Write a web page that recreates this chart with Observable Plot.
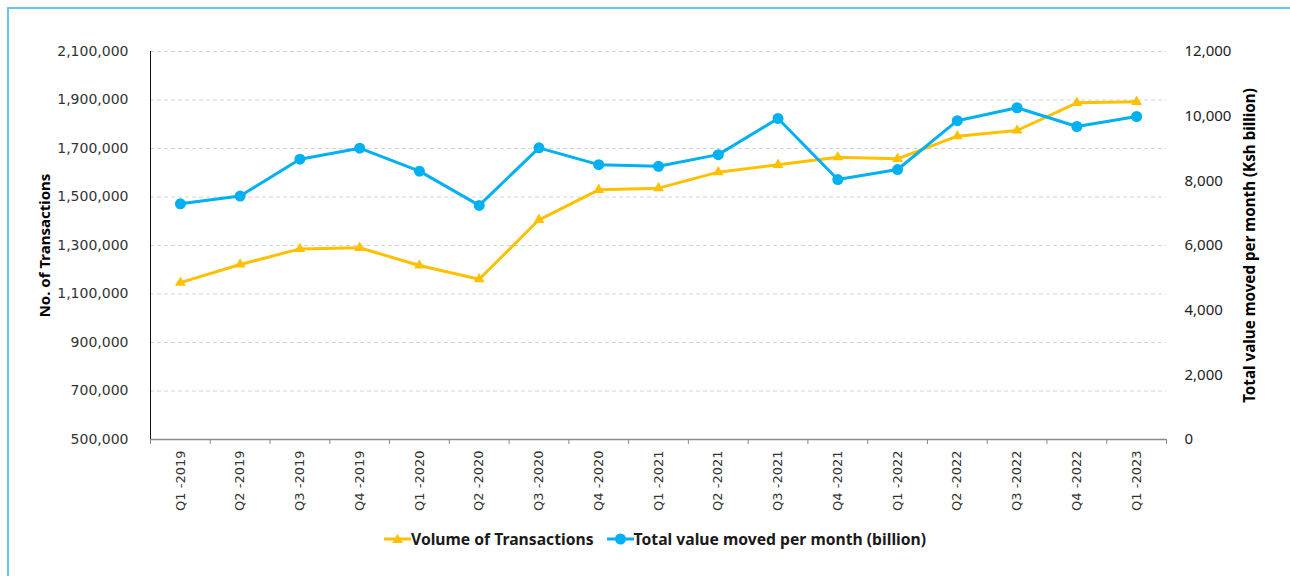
<!DOCTYPE html>
<html>
<head>
<meta charset="utf-8">
<script src="https://cdn.jsdelivr.net/npm/d3@7"></script>
<script src="https://cdn.jsdelivr.net/npm/@observablehq/plot@0.6"></script>
<style>
  html, body { margin: 0; padding: 0; background: #fff; }
  #wrap { position: relative; width: 1290px; height: 576px; overflow: hidden; }
  #border { position: absolute; left: 7px; top: 7px; width: 1300px; height: 600px;
            border-left: 2px solid #63c7f2; border-top: 2px solid #63c7f2; box-sizing: border-box; }
  #chart { position: absolute; left: 0; top: 0; }
  #legend { position: absolute; left: 384px; top: 528px; display: flex; align-items: center;
            font-family: "Noto Sans", sans-serif; font-weight: bold; font-size: 15.7px; color: #1a1a1a; white-space: nowrap; }
  #legend .item { display: flex; align-items: center; margin-right: 13px; }
  #legend svg { display: block; }
</style>
</head>
<body>
<div id="wrap">
  <div id="border"></div>
  <div id="chart"></div>
  <div id="legend"></div>
</div>
<script>
const quarters = ["Q1 -2019","Q2 -2019","Q3 -2019","Q4 -2019","Q1 -2020","Q2 -2020","Q3 -2020","Q4 -2020",
  "Q1 -2021","Q2 -2021","Q3 -2021","Q4 -2021","Q1 -2022","Q2 -2022","Q3 -2022","Q4 -2022","Q1 -2023"];
const volume = [1147000,1221600,1286000,1290500,1217500,1161000,1406000,1529600,1536400,1602400,1632600,
  1664300,1657400,1750800,1774200,1888400,1892500];
const valueBn = [7290,7530,8670,9010,8300,7240,9020,8500,8450,8810,9930,8040,8350,9860,10260,9680,9990];
const leftTicks = [500000,700000,900000,1100000,1300000,1500000,1700000,1900000,2100000];
const rightTicks = [0,2000,4000,6000,8000,10000,12000];
const seriesNames = ["Volume of Transactions","Total value moved per month (billion)"];
const axisTitles = ["No. of Transactions","Total value moved per month (Ksh billion)"];

const orange = "#FFC000", blue = "#00B0F0";
const W = 1290, H = 520, mL = 150, mR = 124, mT = 51, mB = 81;
const step = (W - mL - mR) / quarters.length;

// map right-axis values onto the left scale domain
const leftMin = 500000, leftMax = 2100000, rightMax = 12000;
const toLeft = v => leftMin + v * (leftMax - leftMin) / rightMax;
const fromLeft = d => Math.round((d - leftMin) * rightMax / (leftMax - leftMin));

const volData = quarters.map((q, i) => ({q, v: volume[i]}));
const valData = quarters.map((q, i) => ({q, v: toLeft(valueBn[i])}));
const fmt = d3.format(",");

const plot = Plot.plot({
  width: W, height: H,
  marginLeft: mL, marginRight: mR, marginTop: mT, marginBottom: mB,
  style: {fontFamily: "DejaVu Sans, sans-serif", background: "transparent"},
  x: {type: "point", domain: quarters, padding: 0.5, round: false},
  y: {domain: [leftMin, leftMax]},
  marks: [
    Plot.gridY(leftTicks, {stroke: "#d4d4d4", strokeOpacity: 1, strokeDasharray: "4,3"}),
    Plot.axisY(leftTicks, {anchor: "left", tickSize: 0, tickPadding: 22, tickFormat: fmt, label: null,
      fontSize: 14, fontFamily: "DejaVu Sans, sans-serif", fill: "#333"}),
    Plot.axisY(rightTicks.map(toLeft), {anchor: "right", tickSize: 0, tickPadding: 18,
      tickFormat: d => fmt(fromLeft(d)), label: null, textAnchor: "start",
      fontSize: 15, fontFamily: "Noto Sans, sans-serif", fill: "#222"}),
    Plot.axisX(quarters, {anchor: "bottom", tickSize: 0, tickPadding: 11, tickRotate: -90, label: null,
      fontSize: 13, fontFamily: "DejaVu Sans, sans-serif", fill: "#333"}),
    Plot.axisX(quarters, {anchor: "bottom", tickSize: 5, tickFormat: () => "", dx: -step / 2, label: null, stroke: "#8a8a8a", strokeOpacity: 1}),
    Plot.axisX([quarters[quarters.length - 1]], {anchor: "bottom", tickSize: 5, tickFormat: () => "", dx: step / 2, label: null, stroke: "#8a8a8a", strokeOpacity: 1}),
    Plot.ruleY([leftMin], {stroke: "#8a8a8a", strokeWidth: 1.5}),
    Plot.ruleX([quarters[0]], {dx: -step / 2, stroke: "#111", strokeWidth: 1}),
    Plot.text([axisTitles[0]], {frameAnchor: "left", dx: -105, rotate: -90, textAnchor: "middle", fontWeight: "bold", fontSize: 15,
      fontFamily: "Noto Sans, sans-serif", fill: "#000"}),
    Plot.text([axisTitles[1]], {frameAnchor: "right", dx: 84, rotate: -90, textAnchor: "middle", fontWeight: "bold", fontSize: 15.2,
      fontFamily: "Noto Sans, sans-serif", fill: "#000"}),
    Plot.line(volData, {x: "q", y: "v", stroke: orange, strokeWidth: 3}),
    Plot.dot(volData, {x: "q", y: "v", symbol: "triangle", r: 4, fill: orange}),
    Plot.line(valData, {x: "q", y: "v", stroke: blue, strokeWidth: 3}),
    Plot.dot(valData, {x: "q", y: "v", r: 5.5, fill: blue})
  ]
});
document.getElementById("chart").appendChild(plot);

// legend
const legend = document.getElementById("legend");
function swatch(color, kind) {
  const s = d3.create("svg").attr("width", 27).attr("height", 14);
  s.append("line").attr("x1", 0).attr("x2", 27).attr("y1", 7).attr("y2", 7).attr("stroke", color).attr("stroke-width", 3);
  if (kind === "triangle") {
    s.append("path").attr("d", d3.symbol(d3.symbolTriangle, 50)()).attr("transform", "translate(13.5,8)").attr("fill", color);
  } else {
    s.append("circle").attr("cx", 13.5).attr("cy", 7).attr("r", 5.5).attr("fill", color);
  }
  return s.node();
}
[[seriesNames[0], orange, "triangle"], [seriesNames[1], blue, "circle"]].forEach(([name, c, k]) => {
  const item = document.createElement("div");
  item.className = "item";
  item.appendChild(swatch(c, k));
  const t = document.createElement("span");
  t.textContent = name;
  item.appendChild(t);
  legend.appendChild(item);
});
</script>
</body>
</html>
